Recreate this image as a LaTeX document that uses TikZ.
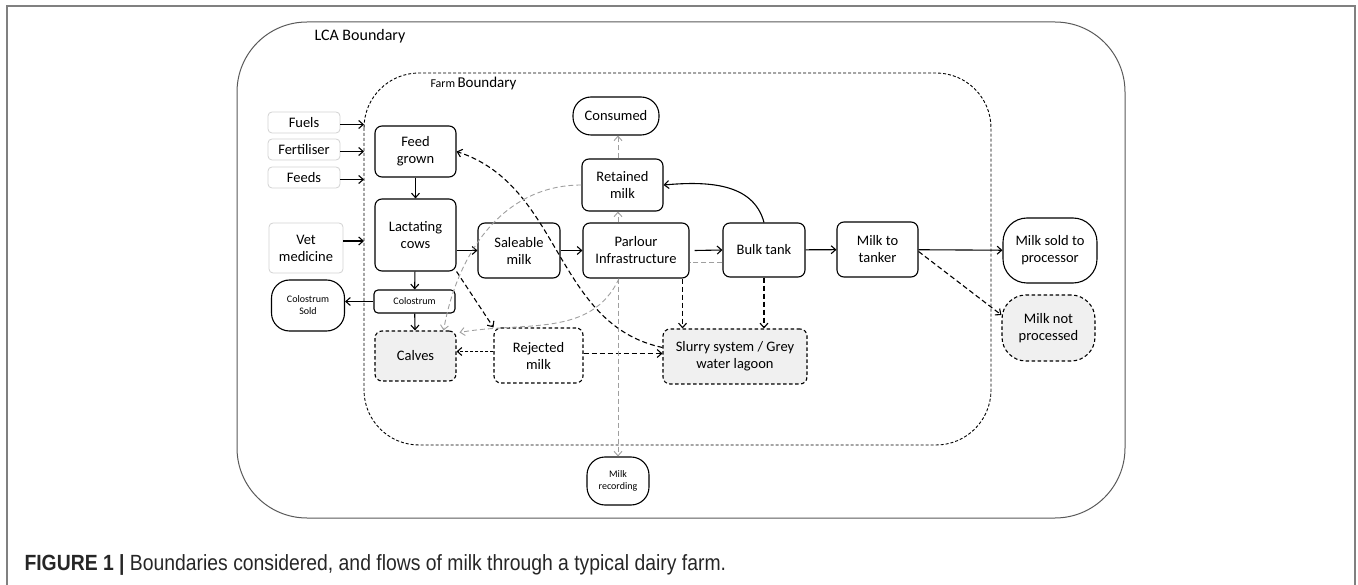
\documentclass[tikz,border=0pt]{standalone}
\usepackage{fontspec}
\setmainfont{Carlito}
\newfontfamily\capfont[FakeStretch=0.88]{Liberation Sans}
\usetikzlibrary{arrows.meta,positioning}
\tikzset{
	blk/.style={draw,line width=1.1pt,rounded corners=7pt,fill=white,align=center,inner sep=0pt,font=\fontsize{14.5}{17}\selectfont},
	term/.style={blk,rounded corners=18pt},
	waste/.style={blk,dash pattern=on 3.5pt off 2.5pt,fill=gray!12},
	input/.style={blk,draw=gray!35,line width=0.8pt,rounded corners=4pt},
	sz/.style 2 args={minimum width=#1pt,minimum height=#2pt},
	tiny/.style={font=\fontsize{10}{12}\selectfont},
	flow/.style={->,line width=1.1pt},
	dflow/.style={->,line width=1.1pt,dash pattern=on 5pt off 3pt},
	gflow/.style={->,draw=gray!75,line width=0.9pt,dash pattern=on 5pt off 3pt},
}
\begin{document}
\begin{tikzpicture}[line cap=butt,line join=miter,>={Straight Barb[length=4.5pt,width=8pt]},x=1pt,y=1pt]
	\useasboundingbox (0,0) rectangle (1358,-585);
	\draw[gray,line width=1.5pt] (7,-585) -- (7,-6) -- (1355,-6) -- (1355,-585);
	
	\draw[gray!70!black,line width=1pt,rounded corners=70pt] (237,-22) rectangle (1125,-518);
	\draw[line width=0.9pt,dash pattern=on 3pt off 2pt,rounded corners=55pt] (364,-73) rectangle (991,-445);
	\node[anchor=west,font=\fontsize{16}{18}\selectfont] (lcalbl) at (311,-36) {LCA Boundary};
	\node[anchor=west] (farmlbl) at (427,-84) {{\fontsize{12}{14}\selectfont Farm} {\fontsize{15}{17}\selectfont Boundary}};
	\coordinate (fb) at (364,0);
	
	\node[input,sz={72}{21}] (fuels) at (304,-122.5) {Fuels};
	\node[input,sz={72}{21}] (fert) at (304,-149.5) {Fertiliser};
	\node[input,sz={72}{21}] (feeds) at (304,-177.5) {Feeds};
	\node[input,sz={74}{50}] (vet) at (306,-248) {Vet\\medicine};
	\node[term,sz={73}{51},tiny] (colsold) at (308,-305.5) {Colostrum\\Sold};
	
	\node[blk,sz={81}{51}] (feed) at (415.5,-151.5) {Feed\\grown};
	\node[blk,sz={81}{72}] (cows) at (415.5,-235) {Lactating\\cows};
	\node[blk,sz={81}{23},tiny,rounded corners=4pt] (col) at (414.5,-301.5) {Colostrum};
	\node[waste,sz={81}{50}] (calves) at (415.5,-356) {Calves};
	\node[blk,dash pattern=on 3.5pt off 2.5pt,sz={89}{55}] (rej) at (538.5,-355.5) {Rejected\\milk};
	\node[blk,sz={82}{55}] (sale) at (519,-250.5) {Saleable\\milk};
	\node[blk,sz={106}{55}] (parl) at (636,-250.5) {Parlour\\Infrastructure};
	\node[blk,sz={82}{54}] (bulk) at (764,-250) {Bulk tank};
	\node[blk,sz={81}{55}] (tanker) at (877.5,-249.5) {Milk to\\tanker};
	\node[term,sz={86}{38}] (cons) at (616,-116) {Consumed};
	\node[blk,sz={81}{52}] (ret) at (622.5,-185) {Retained\\milk};
	\node[waste,sz={144}{55}] (slurry) at (735,-356.5) {Slurry system / Grey\\water lagoon};
	\node[term,sz={62}{48},tiny] (rec) at (618,-481) {Milk\\recording};
	\node[term,sz={94}{65},rounded corners=24pt] (sold) at (1050,-250.5) {Milk sold to\\processor};
	\node[waste,sz={93}{66},rounded corners=24pt] (notproc) at (1048.5,-328) {Milk not\\processed};
	
	\foreach \n in {fuels,fert,feeds}{
		\draw[flow] ([yshift=-2pt]\n.east) -- ([yshift=-2pt]\n.east -| fb);
	}
	\draw[flow] ([yshift=7pt]vet.east) -- ([yshift=7pt]vet.east -| fb);
	\draw[flow] (feed) -- (cows);
	\draw[flow] (cows.east |- sale) -- (sale.west);
	\draw[flow] (sale) -- (parl);
	\draw[flow] ([xshift=5pt]parl.east) -- (bulk.west);
	\draw[flow] (bulk) -- (tanker);
	\draw[flow] (tanker) -- (sold);
	\draw[flow] (bulk.north) to[out=105,in=5] (ret.east);
	\draw[flow] (cows) -- (col);
	\draw[flow] (col) -- (calves);
	\draw[flow] (col.west) -- (col.west -| colsold.east);
	
	\draw[dflow] (cows.south east) -- (rej.north west);
	\draw[->,line width=1.1pt,dash pattern=on 3pt off 2pt] ([yshift=4pt]rej.west) -- ([yshift=4pt]rej.west -| calves.east);
	\draw[dflow] ([yshift=2pt]rej.east) -- ([yshift=2pt]rej.east -| slurry.west);
	\draw[dflow] ([xshift=-7pt]parl.south east) -- ([xshift=-7pt]parl.south east |- slurry.north);
	\draw[dflow] (bulk.south) -- (bulk.south |- slurry.north);
	\draw[dflow] ([yshift=-2pt]tanker.east) -- ([yshift=13pt]notproc.west);
	\draw[dflow] ([yshift=9pt]slurry.west) to[out=168,in=-18] (feed.east);
	
	\draw[gflow] (ret.north -| rec) -- (cons.south -| rec);
	\draw[gflow] (parl.north -| rec) -- (ret.south -| rec);
	\draw[gflow] (parl.south -| rec) -- (rec.north);
	\draw[gflow] (ret.west) to[out=180,in=80] ([xshift=-13pt]calves.north east);
	\draw[gflow,-] ([yshift=-12pt]bulk.west) -- ([yshift=-12pt]bulk.west -| parl.east);
	\draw[gflow] ([xshift=-17pt]parl.south) to[out=-115,in=10] ([xshift=3pt,yshift=-2pt]calves.north east);
	
	\node[anchor=base west,text=black!85,font=\capfont\fontsize{22}{25}\selectfont] (cap) at (21,-570) {{\bfseries FIGURE 1 |} Boundaries considered, and flows of milk through a typical dairy farm.};
\end{tikzpicture}
\end{document}
